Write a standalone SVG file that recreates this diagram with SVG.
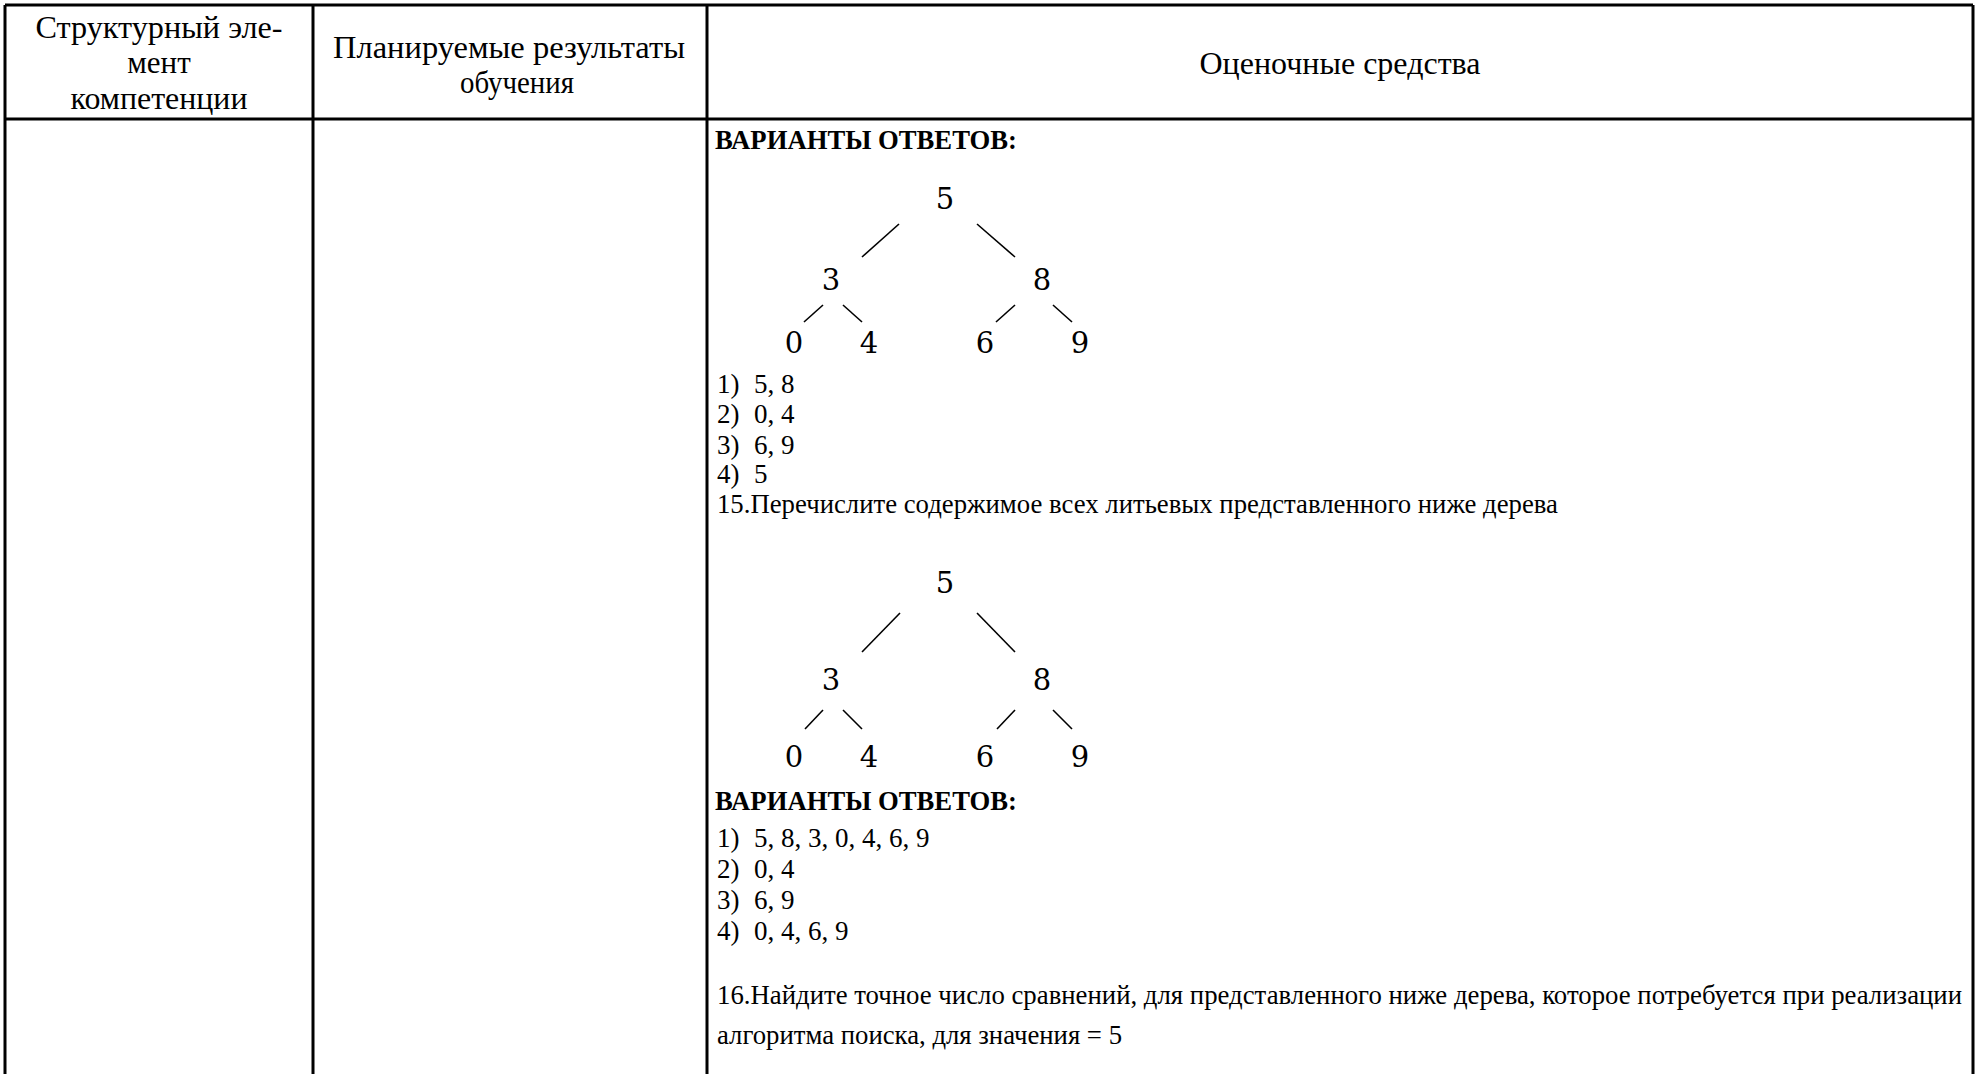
<svg xmlns="http://www.w3.org/2000/svg" width="1977" height="1074" viewBox="0 0 1977 1074">
<style>
.g{stroke:#000;stroke-width:3;fill:none}
.h{font-family:"Liberation Serif","Times New Roman",serif;font-size:31px;fill:#000}
.t{font-family:"Liberation Serif","Times New Roman",serif;font-size:27px;fill:#000}
.b{font-family:"Liberation Serif","Times New Roman",serif;font-size:27px;font-weight:bold;fill:#000}
.d{font-family:"DejaVu Serif","Liberation Serif",serif;font-size:29px;fill:#000;text-anchor:middle}
.e{stroke:#000;stroke-width:1.6}
</style>
<rect width="1977" height="1074" fill="#fff"/>
<g id="table">
<line class="g" x1="5" y1="5" x2="1973" y2="5"/>
<line class="g" x1="5" y1="5" x2="5" y2="1074"/>
<line class="g" x1="313" y1="5" x2="313" y2="1074"/>
<line class="g" x1="707" y1="5" x2="707" y2="1074"/>
<line class="g" x1="1973" y1="5" x2="1973" y2="1074"/>
<line class="g" x1="5" y1="119" x2="1973" y2="119"/>
</g>
<g id="header">
<text class="h" x="159" y="38" text-anchor="middle" textLength="247" lengthAdjust="spacingAndGlyphs">Структурный эле-</text>
<text class="h" x="159" y="73" text-anchor="middle">мент</text>
<text class="h" x="159" y="109" text-anchor="middle" textLength="177" lengthAdjust="spacingAndGlyphs">компетенции</text>
<text class="h" x="509" y="58" text-anchor="middle" textLength="352" lengthAdjust="spacingAndGlyphs">Планируемые результаты</text>
<text class="h" x="517" y="93" text-anchor="middle" textLength="114" lengthAdjust="spacingAndGlyphs">обучения</text>
<text class="h" x="1340" y="74" text-anchor="middle" textLength="281" lengthAdjust="spacingAndGlyphs">Оценочные средства</text>
</g>
<g id="content">
<text class="b" x="715" y="149" textLength="302" lengthAdjust="spacingAndGlyphs">ВАРИАНТЫ ОТВЕТОВ:</text>
<g id="tree1">
<text class="d" x="945" y="209">5</text>
<text class="d" x="831" y="290">3</text>
<text class="d" x="1042" y="290">8</text>
<text class="d" x="794" y="353">0</text>
<text class="d" x="869" y="353">4</text>
<text class="d" x="985" y="353">6</text>
<text class="d" x="1080" y="353">9</text>
</g>
<text class="t" x="717" y="393">1)<tspan x="754">5, 8</tspan></text>
<text class="t" x="717" y="423">2)<tspan x="754">0, 4</tspan></text>
<text class="t" x="717" y="454">3)<tspan x="754">6, 9</tspan></text>
<text class="t" x="717" y="483">4)<tspan x="754">5</tspan></text>
<text class="t" x="717" y="513" textLength="841" lengthAdjust="spacingAndGlyphs">15.Перечислите содержимое всех литьевых представленного ниже дерева</text>
<g id="tree2">
<text class="d" x="945" y="593">5</text>
<text class="d" x="831" y="690">3</text>
<text class="d" x="1042" y="690">8</text>
<text class="d" x="794" y="767">0</text>
<text class="d" x="869" y="767">4</text>
<text class="d" x="985" y="767">6</text>
<text class="d" x="1080" y="767">9</text>
</g>
<text class="b" x="715" y="810" textLength="302" lengthAdjust="spacingAndGlyphs">ВАРИАНТЫ ОТВЕТОВ:</text>
<text class="t" x="717" y="847">1)<tspan x="754">5, 8, 3, 0, 4, 6, 9</tspan></text>
<text class="t" x="717" y="878">2)<tspan x="754">0, 4</tspan></text>
<text class="t" x="717" y="909">3)<tspan x="754">6, 9</tspan></text>
<text class="t" x="717" y="940">4)<tspan x="754">0, 4, 6, 9</tspan></text>
<text class="t" x="717" y="1004" textLength="1245" lengthAdjust="spacingAndGlyphs">16.Найдите точное число сравнений, для представленного ниже дерева, которое потребуется при реализации</text>
<text class="t" x="717" y="1044" textLength="405" lengthAdjust="spacingAndGlyphs">алгоритма поиска, для значения = 5</text>
</g>
<g id="connectors">
<line class="e" x1="899" y1="224" x2="862" y2="257"/>
<line class="e" x1="977" y1="224" x2="1015" y2="257"/>
<line class="e" x1="823" y1="305" x2="804" y2="322"/>
<line class="e" x1="843" y1="305" x2="862" y2="322"/>
<line class="e" x1="1015" y1="305" x2="996" y2="322"/>
<line class="e" x1="1053" y1="305" x2="1072" y2="322"/>
<line class="e" x1="900" y1="613" x2="862" y2="652"/>
<line class="e" x1="977" y1="613" x2="1015" y2="652"/>
<line class="e" x1="823" y1="710" x2="805" y2="729"/>
<line class="e" x1="843" y1="710" x2="862" y2="729"/>
<line class="e" x1="1015" y1="710" x2="997" y2="729"/>
<line class="e" x1="1053" y1="710" x2="1072" y2="729"/>
</g>
</svg>
